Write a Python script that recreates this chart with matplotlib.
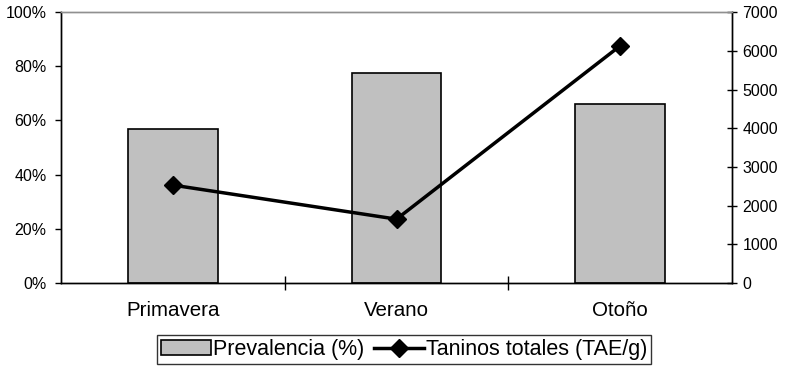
import matplotlib.pyplot as plt
import numpy as np

plt.rcParams['font.family'] = ['Liberation Sans', 'DejaVu Sans']

estaciones = ["Primavera", "Verano", "Otoño"]
prevalencia = [57, 77.5, 66]
taninos = [2530, 1650, 6130]

fig = plt.figure(figsize=(7.85, 3.68), dpi=100)
ax = fig.add_axes([0.0777, 0.231, 0.8548, 0.736])
x = np.arange(len(estaciones))

bars = ax.bar(x, prevalencia, width=0.4, color="#c0c0c0", edgecolor="black",
              linewidth=1.2, label="Prevalencia (%)", zorder=2)
ax.set_xlim(-0.5, 2.5)
ax.set_ylim(0, 100)
ax.set_yticks(np.arange(0, 101, 20))
ax.set_yticklabels([f"{v}%" for v in range(0, 101, 20)])
ax.set_xticks(x)
ax.set_xticklabels(estaciones)
ax.tick_params(axis="x", length=0, pad=13, labelsize=14.8)
ax.set_xticks([0.5, 1.5], minor=True)
ax.tick_params(axis="x", which="minor", length=9.5, direction="inout", width=1)
ax.tick_params(axis="y", length=4, width=1, pad=6.5, labelsize=11.5)

ax2 = ax.twinx()
linea, = ax2.plot(x, taninos, color="black", linewidth=2.5, marker="D",
                  markersize=9, label="Taninos totales (TAE/g)", zorder=3)
ax2.set_ylim(0, 7000)
ax2.set_yticks(np.arange(0, 7001, 1000))
ax2.tick_params(axis="y", length=7, width=1, direction="inout", pad=4,
                labelsize=11.5)

for a in (ax, ax2):
    a.spines["top"].set_color("#909090")
    a.spines["left"].set_color("black")
    a.spines["right"].set_color("black")
    a.spines["bottom"].set_color("black")
    for s in a.spines.values():
        s.set_linewidth(1)

leg = fig.legend([bars, linea], ["Prevalencia (%)", "Taninos totales (TAE/g)"],
                 loc="center", bbox_to_anchor=(0.515, 0.05), ncol=2,
                 frameon=True, fancybox=False, edgecolor="black",
                 fontsize=15.5, handlelength=2.3, handletextpad=0.1,
                 columnspacing=0.45, borderpad=0.2, borderaxespad=0)
leg.get_frame().set_linewidth(1)

fig.savefig("out.png", dpi=100)
